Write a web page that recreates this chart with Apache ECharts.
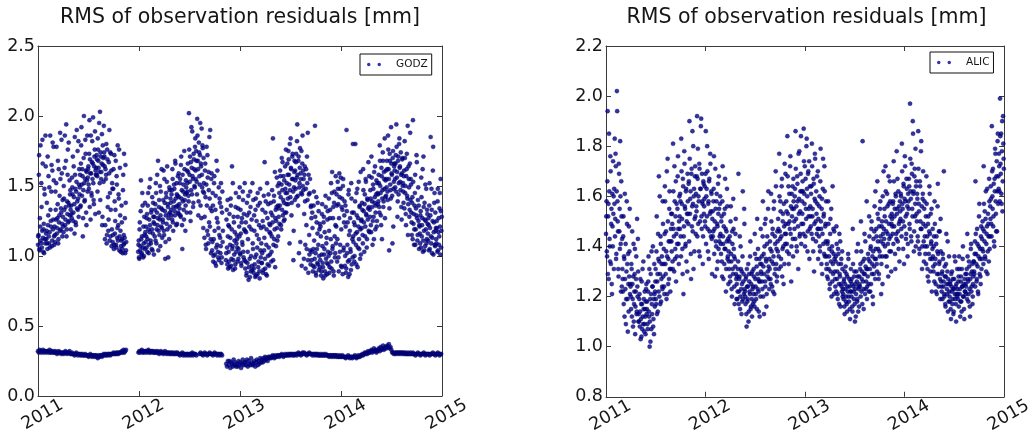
<!DOCTYPE html>
<html>
<head>
<meta charset="utf-8">
<script src="https://cdn.jsdelivr.net/npm/echarts@6/dist/echarts.min.js"></script>
<style>
  html, body { margin: 0; padding: 0; background: #ffffff; }
  #chart { width: 1035px; height: 436px; }
</style>
</head>
<body>
<div id="chart"></div>
<script>
// Daily RMS of observation residuals [mm] for two GNSS stations, 2011-2014.
const titleText = 'RMS of observation residuals [mm]';
const yearTicks = [2011, 2012, 2013, 2014, 2015];
const seriesStart = [2011, 0, 1];   // first epoch (UTC year, month, day)

// GODZ, upper cloud, even days (day 0, 2, 4, ...): 15 values per row = 30 days
const godzUpperEven = [
  1.08, 1.15, 1.72, 1.04, 1.21, 1.11, 1.52, 1.06, 1.83, 1.13, 1.19, 1.02, 1.44, 1.09, 1.64,
  1.12, 1.38, 1.05, 1.22, 1.57, 1.09, 1.17, 1.86, 1.25, 1.46, 1.07, 1.61, 1.19, 1.78, 1.14,
  1.21, 1.10, 1.33, 1.52, 1.16, 1.27, 1.68, 1.12, 1.24, 1.43, 1.88, 1.19, 1.31, 1.59, 1.14,
  1.28, 1.17, 1.41, 1.63, 1.22, 1.35, 1.94, 1.19, 1.30, 1.76, 1.38, 1.25, 1.54, 1.44, 1.33,
  1.36, 1.27, 1.49, 1.71, 1.31, 1.42, 1.16, 1.58, 1.24, 1.46, 1.90, 1.39, 1.33, 1.82, 1.51,
  1.44, 1.58, 1.36, 1.79, 1.51, 1.62, 1.14, 1.47, 2.00, 1.39, 1.55, 1.73, 1.31, 1.60, 1.86,
  1.56, 1.64, 1.48, 1.97, 1.69, 1.26, 1.59, 1.43, 1.82, 1.66, 1.52, 1.37, 1.71, 1.89, 1.61,
  1.63, 1.72, 1.57, 1.84, 1.68, 1.31, 1.60, 2.03, 1.74, 1.55, 1.66, 1.22, 1.79, 1.70, 1.93,
  1.71, 1.12, 1.62, 1.58, 1.09, 1.76, 1.35, 1.18, 1.67, 1.90, 1.45, 1.14, 1.73, 1.07, 1.52,
  1.10, 1.48, 1.05, 1.72, 1.16, 1.33, 1.08, 1.57, 1.13, 1.79, 1.22, 1.41, 1.04, 1.63, 1.18,
  1.07, 1.36, 1.12, 1.02, 1.58, 1.15, 1.09, 1.27, 1.65, 1.04, null, null, null, null, null,
  null, null, null, null, null, null, null, null, null, null, null, null, null, null, null,
  null, 1.03, 1.11, 0.98, 1.24, 1.07, 1.54, 1.01, 1.14, 1.36, 0.99, 1.09, 1.28, 1.05, 1.17,
  1.21, 1.06, 1.30, 1.12, 1.45, 1.02, 1.26, 1.17, 1.55, 1.09, 1.33, 1.19, 1.04, 1.38, 1.24,
  1.28, 1.14, 1.37, 1.52, 1.09, 1.31, 1.22, 1.68, 1.18, 1.40, 1.26, 1.07, 1.46, 1.34, 1.20,
  1.33, 1.24, 1.61, 1.15, 1.38, 0.98, 1.29, 1.42, 1.53, 1.19, 1.35, 1.27, 1.12, 1.47, 1.31,
  1.38, 1.29, 1.47, 1.62, 1.24, 1.35, 1.51, 1.32, 1.68, 1.41, 1.22, 1.44, 1.36, 1.57, 1.30,
  1.42, 1.34, 1.55, 1.28, 1.71, 1.47, 1.05, 1.39, 1.51, 1.26, 1.62, 1.44, 1.36, 1.49, 1.31,
  1.52, 1.66, 1.43, 2.02, 1.58, 1.71, 1.25, 1.47, 1.63, 1.89, 1.55, 1.38, 1.69, 1.50, 1.78,
  1.61, 1.75, 1.53, 1.98, 1.68, 1.29, 1.81, 1.57, 1.72, 1.36, 1.64, 1.91, 1.49, 1.77, 1.20,
  1.52, 1.13, 1.61, 1.42, 1.05, 1.78, 1.18, 1.56, 1.09, 1.47, 1.85, 1.21, 1.34, 1.02, 1.59,
  1.04, 1.45, 0.96, 1.12, 1.57, 1.01, 1.33, 0.93, 1.68, 1.08, 1.24, 0.99, 1.49, 1.15, 1.38,
  1.02, 1.52, 0.95, 1.31, 1.10, null, null, null, null, null, 0.97, 1.26, 1.06, 1.40, 0.91,
  1.03, 1.21, 0.92, 1.13, 1.36, 0.98, 1.64, 1.07, 0.90, 1.28, 1.01, 1.17, 0.94, 1.45, 1.09,
  1.12, 0.96, 1.34, 1.05, 1.21, 1.49, 1.01, 1.16, 0.93, 1.27, 1.08, 1.40, 0.99, 1.19, 1.52,
  0.91, 1.24, 0.86, 1.38, 0.95, 1.12, 0.83, 1.31, 0.98, 1.46, 0.89, 1.19, 0.93, 1.52, 1.05,
  0.88, 1.29, 0.94, 0.85, 1.41, 1.01, 1.15, 0.87, 1.36, 0.96, 1.22, 0.84, 1.48, 0.99, 1.09,
  0.95, 1.33, 0.88, 1.21, 1.04, 1.67, 0.91, 1.39, 1.08, 0.86, 1.27, 1.00, 1.44, 0.93, 1.17,
  1.22, 1.38, 0.96, 1.14, 1.29, 1.84, 1.08, 1.43, 1.19, 0.92, 1.33, 1.25, 1.56, 1.11, 1.36,
  1.34, 1.52, 1.23, 1.61, 1.42, 1.19, 1.70, 1.47, 1.29, 1.57, 1.38, 1.26, 1.64, 1.45, 1.31,
  1.52, 1.66, 1.41, 1.75, 1.58, 1.09, 1.47, 1.84, 1.62, 1.38, 1.71, 1.55, 0.97, 1.49, 1.68,
  1.61, 1.48, 1.73, 1.56, 1.94, 1.43, 1.68, 1.02, 1.52, 1.77, 1.59, 1.45, 0.93, 1.66, 1.50,
  1.47, 0.98, 1.58, 1.39, 0.91, 1.62, 1.05, 1.52, 1.88, 0.88, 1.44, 1.01, 1.55, 0.94, 1.36,
  0.97, 1.31, 0.89, 1.05, 1.46, 0.92, 1.93, 1.02, 0.86, 1.24, 0.95, 1.38, 1.08, 0.90, 1.19,
  0.92, 1.21, 0.86, 1.01, 1.37, 0.95, 0.84, 1.28, 1.05, 0.89, 1.43, 0.98, 1.13, 0.87, 1.32,
  0.94, 1.41, 0.88, 1.27, 1.02, 1.52, 0.91, 1.60, 1.07, 1.35, 0.86, 1.46, 0.99, 1.22, 1.09,
  1.44, 0.96, 1.53, 1.37, 0.89, 1.59, 1.03, 1.48, 0.93, 1.35, 1.41, 0.87, 1.55, 1.06, 1.29,
  0.93, 1.36, 0.88, 1.90, 1.02, 1.24, 0.85, 1.47, 0.97, 1.18, 1.05, 0.90, 1.41, 1.31, 0.99,
  1.14, 1.31, 0.96, 1.22, 1.80, 1.08, 1.45, 1.17, 0.92, 1.27, 1.53, 1.05, 1.36, 1.19, 1.01,
  1.26, 1.38, 1.15, 1.62, 1.32, 1.03, 1.44, 1.21, 1.53, 1.29, 1.12, 1.40, 1.34, 1.18, 1.57,
  1.33, 1.47, 1.22, 1.71, 1.39, 1.08, 1.51, 1.28, 1.60, 1.42, 1.19, 1.36, 1.54, 1.25, 1.45,
  1.44, 1.58, 1.35, 1.79, 1.50, 1.29, 1.63, 1.12, 1.47, 1.68, 1.39, 1.55, 1.84, 1.42, 1.61,
  1.55, 1.68, 1.46, 1.86, 1.62, 1.04, 1.73, 1.51, 1.41, 1.66, 1.58, 1.09, 1.75, 1.48, 1.64,
  1.61, 1.49, 1.72, 1.94, 1.56, 1.28, 1.68, 1.44, 1.80, 1.63, 1.53, 1.74, 1.35, 1.59, 1.70,
  1.52, 1.38, 1.61, 1.82, 1.45, 1.30, 1.57, 1.73, 1.41, 1.15, 1.64, 1.49, 1.33, 1.88, 1.55,
  1.31, 1.15, 1.42, 1.97, 1.23, 1.08, 1.36, 1.58, 1.19, 1.29, 1.67, 1.11, 1.40, 1.25, 1.05,
  1.21, 1.09, 1.32, 1.56, 1.14, 1.27, 1.03, 1.71, 1.18, 1.38, 1.07, 1.25, 1.48, 1.12, 1.30,
  1.16, 1.27, 1.04, 1.52, 1.20, 1.85, 1.09, 1.33, 1.13, 1.61, 1.01, 1.24, 1.45, 1.07, 1.18,
  1.12, 1.25, 1.03, 1.48, 1.17, 1.08, 1.34, 1.21, 1.55, 1.06, 1.28
];

// GODZ, upper cloud, odd days (day 1, 3, 5, ...)
const godzUpperOdd = [
  1.14, 1.58, 1.05, 1.27, 1.79, 1.09, 1.35, 1.18, 1.66, 1.03, 1.23, 1.48, 1.12, 1.86, 1.16,
  1.18, 1.09, 1.71, 1.29, 1.14, 1.49, 1.06, 1.33, 1.21, 1.65, 1.11, 1.81, 1.26, 1.54, 1.08,
  1.15, 1.46, 1.26, 1.78, 1.20, 1.37, 1.09, 1.62, 1.29, 1.18, 1.55, 1.34, 1.83, 1.23, 1.40,
  1.21, 1.50, 1.33, 1.86, 1.26, 1.68, 1.14, 1.39, 1.58, 1.24, 1.81, 1.36, 1.29, 1.47, 1.19,
  1.30, 1.56, 1.44, 1.25, 1.64, 1.37, 1.85, 1.48, 1.22, 1.53, 1.34, 1.75, 1.41, 1.28, 1.62,
  1.49, 1.35, 1.66, 1.92, 1.43, 1.57, 1.27, 1.70, 1.52, 1.40, 1.83, 1.61, 1.22, 1.54, 1.46,
  1.62, 1.51, 1.73, 1.35, 1.59, 1.86, 1.45, 1.67, 1.55, 1.99, 1.40, 1.64, 1.76, 1.30, 1.58,
  1.58, 1.69, 1.46, 1.76, 1.63, 1.95, 1.52, 1.40, 1.71, 1.60, 1.87, 1.28, 1.65, 1.53, 1.74,
  1.64, 1.22, 1.55, 1.80, 1.15, 1.69, 1.42, 1.26, 1.59, 1.11, 1.74, 1.33, 1.61, 1.19, 1.48,
  1.15, 1.62, 1.08, 1.39, 1.25, 1.68, 1.06, 1.51, 1.20, 1.11, 1.44, 1.76, 1.14, 1.29, 1.03,
  1.11, 1.24, 1.05, 1.47, 1.08, 1.73, 1.13, 1.02, 1.38, 1.10, null, null, null, null, null,
  null, null, null, null, null, null, null, null, null, null, null, null, null, null, null,
  null, 1.08, 0.99, 1.19, 1.04, 1.32, 1.12, 1.02, 1.45, 1.06, 1.21, 1.00, 1.15, 1.38, 1.10,
  1.14, 1.27, 1.03, 1.36, 1.19, 1.08, 1.49, 1.22, 1.11, 1.31, 1.05, 1.42, 1.16, 1.28, 1.01,
  1.23, 1.33, 1.11, 1.45, 1.19, 1.58, 1.27, 1.04, 1.35, 1.15, 1.50, 1.29, 1.21, 1.62, 1.13,
  1.26, 1.40, 1.18, 1.55, 1.32, 1.10, 1.45, 1.23, 1.64, 1.37, 0.99, 1.30, 1.49, 1.21, 1.41,
  1.33, 1.44, 1.26, 1.55, 1.18, 1.39, 1.48, 1.29, 1.66, 1.35, 1.52, 1.23, 1.43, 1.31, 1.59,
  1.37, 1.52, 1.29, 1.65, 1.41, 1.22, 1.58, 1.46, 1.33, 1.75, 1.40, 1.18, 1.54, 1.45, 1.61,
  1.46, 1.60, 1.39, 1.76, 1.53, 1.31, 1.67, 1.92, 1.44, 1.57, 1.35, 1.73, 1.62, 1.49, 1.84,
  1.55, 1.68, 1.44, 1.86, 1.62, 1.39, 1.74, 1.51, 1.95, 1.66, 1.27, 1.58, 1.79, 1.46, 1.70,
  1.45, 1.28, 1.66, 1.08, 1.51, 1.36, 1.72, 1.15, 1.60, 1.24, 1.41, 1.90, 1.12, 1.55, 1.32,
  1.10, 1.36, 1.00, 1.52, 1.18, 0.95, 1.43, 1.06, 1.27, 1.61, 1.03, 1.20, 0.97, 1.41, 1.13,
  1.07, 1.35, 0.99, 1.46, 1.18, null, null, null, null, null, 1.02, 1.33, 0.94, 1.14, 1.22,
  0.96, 1.30, 1.08, 1.41, 0.93, 1.19, 1.05, 1.52, 0.97, 1.24, 1.11, 0.91, 1.35, 1.03, 1.15,
  1.06, 1.28, 0.98, 1.42, 1.14, 1.02, 1.33, 0.95, 1.24, 1.10, 1.46, 1.03, 1.30, 0.97, 1.18,
  0.96, 1.17, 0.88, 1.29, 1.03, 1.43, 0.92, 1.21, 0.85, 1.35, 1.00, 1.26, 0.90, 1.09, 1.40,
  0.91, 1.18, 0.99, 1.33, 0.86, 1.25, 1.06, 1.45, 0.92, 1.12, 0.89, 1.38, 1.04, 1.20, 0.95,
  1.02, 1.25, 0.90, 1.43, 1.13, 0.98, 1.31, 0.87, 1.19, 1.52, 0.94, 1.37, 1.06, 1.23, 1.01,
  1.16, 1.31, 1.03, 1.47, 1.24, 0.97, 1.39, 1.12, 1.60, 1.27, 1.07, 1.35, 1.20, 1.50, 1.14,
  1.28, 1.45, 1.36, 1.57, 1.22, 1.51, 1.33, 1.67, 1.40, 1.25, 1.54, 1.31, 1.48, 1.76, 1.37,
  1.45, 1.58, 1.37, 1.69, 1.51, 1.80, 1.42, 1.63, 1.29, 1.55, 1.73, 1.46, 1.18, 1.60, 1.40,
  1.54, 1.67, 1.42, 1.82, 1.58, 1.36, 1.71, 1.49, 1.63, 1.10, 1.55, 1.75, 1.44, 1.86, 1.61,
  1.55, 1.30, 1.64, 1.08, 1.48, 1.22, 1.71, 1.40, 0.97, 1.58, 1.15, 1.45, 1.04, 1.35, 1.27,
  1.03, 1.20, 0.93, 1.36, 1.11, 0.98, 1.28, 0.88, 1.42, 1.05, 1.16, 0.94, 1.32, 1.00, 1.23,
  0.97, 1.14, 0.89, 1.30, 1.07, 0.92, 1.24, 1.01, 1.17, 0.86, 1.35, 1.09, 0.95, 1.26, 1.03,
  1.00, 1.18, 0.92, 1.33, 1.12, 0.96, 1.45, 1.05, 1.27, 0.89, 1.38, 1.14, 1.02, 1.57, 1.21,
  1.36, 1.12, 1.48, 0.99, 1.27, 1.42, 1.08, 1.56, 1.19, 0.92, 1.33, 1.50, 1.04, 1.24, 1.39,
  1.00, 1.21, 0.91, 1.32, 1.08, 0.96, 1.44, 1.15, 0.87, 1.27, 1.03, 1.52, 0.94, 1.12, 1.80,
  1.10, 1.24, 1.00, 1.39, 1.16, 0.94, 1.29, 1.48, 1.06, 1.21, 1.12, 1.35, 0.98, 1.60, 1.25,
  1.20, 1.33, 1.09, 1.47, 1.24, 1.37, 1.14, 1.55, 1.30, 1.06, 1.41, 1.26, 1.67, 1.35, 1.17,
  1.28, 1.41, 1.17, 1.56, 1.35, 1.25, 1.48, 1.12, 1.38, 1.64, 1.31, 1.44, 1.21, 1.52, 1.37,
  1.39, 1.52, 1.31, 1.68, 1.45, 1.22, 1.57, 1.41, 1.74, 1.35, 1.60, 1.48, 1.27, 1.54, 1.43,
  1.49, 1.62, 1.40, 1.76, 1.55, 1.34, 1.68, 1.47, 1.92, 1.59, 1.43, 1.70, 1.21, 1.53, 1.66,
  1.55, 1.66, 1.46, 1.78, 1.60, 1.39, 1.71, 1.52, 1.84, 1.64, 1.47, 1.58, 1.26, 1.69, 1.50,
  1.46, 1.57, 1.34, 1.70, 1.50, 1.22, 1.62, 1.43, 1.93, 1.37, 1.55, 1.28, 1.66, 1.40, 1.51,
  1.24, 1.38, 1.12, 1.53, 1.30, 1.19, 1.45, 1.08, 1.34, 1.72, 1.27, 1.15, 1.49, 1.36, 1.22,
  1.16, 1.29, 1.06, 1.42, 1.22, 1.62, 1.11, 1.35, 1.04, 1.26, 1.51, 1.19, 1.09, 1.33, 1.23,
  1.11, 1.22, 1.36, 1.05, 1.29, 1.14, 1.48, 1.02, 1.25, 1.78, 1.17, 1.38, 1.08, 1.31, 1.20,
  1.09, 1.20, 1.39, 1.04, 1.27, 1.14, 1.45, 1.01, 1.32, 1.18
];

// GODZ, lower band: one value every 3rd day, 10 values per row = 30 days
const godzLower = [
  .32, .31, .33, .32, .31, .32, .33, .31, .32, .32,
  .31, .32, .32, .31, .33, .31, .32, .31, .32, .31,
  .31, .32, .31, .30, .31, .32, .31, .31, .30, .31,
  .31, .30, .31, .32, .31, .30, .31, .31, .32, .30,
  .30, .31, .30, .30, .29, .30, .31, .30, .29, .30,
  .30, .29, .30, .29, .30, .29, .29, .30, .29, .29,
  .29, .28, .29, .30, .29, .28, .29, .29, .28, .29,
  .29, .28, .27, .29, .28, .29, .29, .28, .29, .30,
  .29, .30, .29, .30, .29, .30, .30, .29, .30, .30,
  .30, .31, .30, .30, .31, .30, .31, .30, .31, .31,
  .31, .32, .31, .33, .31, .32, .33, null, null, null,
  null, null, null, null, null, null, null, null, null, null,
  null, .31, .32, .31, .32, .33, .31, .32, .31, .32,
  .32, .31, .32, .33, .31, .32, .31, .32, .32, .31,
  .31, .32, .31, .31, .32, .31, .30, .31, .32, .31,
  .31, .30, .31, .32, .31, .30, .31, .31, .30, .31,
  .30, .31, .30, .31, .30, .30, .31, .30, .31, .30,
  .30, .29, .30, .30, .31, .29, .30, .30, .29, .30,
  .30, .29, .30, .30, .29, .30, .31, .29, .30, .30,
  .30, .29, null, null, null, .30, .31, .30, .30, .29,
  .30, .31, .30, .30, .29, .30, .30, .31, .30, .30,
  .30, .29, .30, .31, .30, .30, .29, .30, .30, .29,
  .30, .30, .29, null, null, null, null, .23, .21, .25,
  .22, .25, .20, .24, .23, .21, .26, .22, .24, .21,
  .23, .21, .25, .22, .24, .20, .23, .26, .22, .24,
  .24, .22, .26, .21, .25, .23, .22, .27, .24, .22,
  .23, .25, .21, .24, .26, .22, .25, .23, .27, .24,
  .26, .24, .27, .25, .28, .26, .27, .25, .28, .27,
  .28, .27, .28, .29, .28, .27, .29, .28, .28, .29,
  .29, .28, .29, .29, .30, .29, .28, .29, .30, .29,
  .29, .30, .29, .30, .29, .30, .30, .29, .30, .29,
  .30, .30, .29, .30, .31, .30, .30, .29, .30, .31,
  .30, .31, .30, .30, .29, .30, .30, .31, .30, .30,
  .30, .29, .30, .30, .29, .30, .30, .29, .30, .29,
  .29, .30, .29, .29, .30, .29, .29, .30, .29, .29,
  .29, .28, .29, .29, .28, .29, .29, .28, .29, .29,
  .28, .29, .28, .28, .29, .28, .28, .29, .28, .28,
  .28, .27, .28, .28, .29, .28, .27, .28, .28, .27,
  .28, .28, .29, .28, .27, .28, .29, .28, .28, .29,
  .29, .30, .29, .30, .31, .30, .31, .30, .32, .31,
  .31, .32, .33, .31, .32, .34, .32, .33, .31, .32,
  .33, .34, .32, .35, .33, .34, .36, .33, .34, .35,
  .34, .36, .35, .37, .34, .35, .33, .31, .31, .30,
  .31, .30, .31, .31, .30, .31, .31, .30, .31, .31,
  .30, .31, .30, .31, .30, .30, .31, .30, .30, .31,
  .30, .30, .31, .30, .30, .29, .30, .30, .31, .30,
  .30, .29, .30, .30, .30, .31, .30, .29, .30, .30,
  .30, .30, .29, .30, .30, .30, .31, .30, .30, .29,
  .30, .30, .31, .30, .29, .30, .30
];

// ALIC, even days (day 0, 2, 4, ...)
const alicEven = [
  1.45, 1.58, 1.36, 1.94, 1.52, 1.27, 1.62, 1.40, 1.76, 1.33, 1.55, 1.21, 1.48, 1.74, 1.60,
  1.63, 1.83, 1.51, 1.72, 1.37, 2.02, 1.58, 1.46, 1.28, 1.69, 1.55, 1.82, 1.41, 1.66, 1.24,
  1.31, 1.22, 1.52, 1.36, 1.12, 1.27, 1.41, 1.19, 1.58, 1.33, 1.06, 1.25, 1.48, 1.38, 1.21,
  1.24, 1.15, 1.31, 1.46, 1.19, 1.28, 1.10, 1.22, 1.39, 1.16, 1.27, 1.13, 1.51, 1.20, 1.30,
  1.13, 1.19, 1.08, 1.27, 1.11, 1.04, 1.17, 1.31, 1.09, 1.15, 1.06, 1.22, 1.12, 1.18, 1.25,
  1.15, 1.09, 1.22, 1.36, 1.12, 1.00, 1.19, 1.29, 1.07, 1.17, 1.24, 1.40, 1.11, 1.05, 1.21,
  1.22, 1.31, 1.17, 1.52, 1.26, 1.14, 1.35, 1.68, 1.20, 1.29, 1.44, 1.18, 1.33, 1.24, 1.58,
  1.28, 1.39, 1.21, 1.64, 1.33, 1.46, 1.19, 1.36, 1.75, 1.25, 1.42, 1.55, 1.31, 1.22, 1.47,
  1.42, 1.53, 1.34, 1.81, 1.47, 1.30, 1.58, 1.39, 1.66, 1.45, 1.36, 1.55, 1.76, 1.41, 1.50,
  1.52, 1.61, 1.44, 1.83, 1.57, 1.39, 1.67, 1.21, 1.48, 1.73, 1.55, 1.41, 1.63, 1.50, 1.30,
  1.58, 1.49, 1.66, 1.90, 1.53, 1.62, 1.27, 1.71, 1.56, 1.46, 1.80, 1.60, 1.38, 1.68, 1.52,
  1.61, 1.54, 1.92, 1.67, 1.49, 1.58, 1.73, 1.36, 1.63, 1.88, 1.52, 1.69, 1.57, 1.44, 1.65,
  1.56, 1.64, 1.48, 1.86, 1.60, 1.52, 1.70, 1.38, 1.58, 1.66, 1.46, 1.77, 1.54, 1.62, 1.43,
  1.51, 1.44, 1.58, 1.76, 1.47, 1.28, 1.55, 1.40, 1.61, 1.49, 1.34, 1.53, 1.68, 1.42, 1.57,
  1.45, 1.37, 1.52, 1.28, 1.72, 1.41, 1.48, 1.33, 1.55, 1.39, 1.22, 1.46, 1.63, 1.35, 1.43,
  1.38, 1.31, 1.44, 1.26, 1.56, 1.34, 1.20, 1.41, 1.29, 1.47, 1.36, 1.17, 1.32, 1.51, 1.27,
  1.25, 1.19, 1.31, 1.69, 1.22, 1.28, 1.15, 1.40, 1.23, 1.30, 1.18, 1.62, 1.26, 1.21, 1.49,
  1.22, 1.17, 1.28, 1.08, 1.24, 1.19, 1.33, 1.14, 1.26, 1.21, 1.42, 1.16, 1.29, 1.12, 1.23,
  1.24, 1.31, 1.18, 1.45, 1.27, 1.21, 1.35, 1.15, 1.29, 1.39, 1.22, 1.26, 1.12, 1.33, 1.47,
  1.29, 1.36, 1.23, 1.58, 1.32, 1.13, 1.40, 1.26, 1.51, 1.34, 1.21, 1.44, 1.30, 1.62, 1.27,
  1.35, 1.42, 1.27, 1.61, 1.38, 1.24, 1.47, 1.33, 1.55, 1.21, 1.44, 1.31, 1.64, 1.39, 1.28,
  1.42, 1.51, 1.36, 1.77, 1.46, 1.58, 1.32, 1.44, 1.67, 1.39, 1.53, 1.25, 1.48, 1.73, 1.41,
  1.49, 1.58, 1.41, 1.84, 1.53, 1.64, 1.37, 1.50, 1.72, 1.45, 1.26, 1.61, 1.55, 1.43, 1.67,
  1.55, 1.47, 1.63, 1.86, 1.51, 1.40, 1.68, 1.58, 1.31, 1.53, 1.78, 1.45, 1.62, 1.84, 1.49,
  1.58, 1.66, 1.49, 1.87, 1.61, 1.72, 1.44, 1.55, 1.80, 1.63, 1.38, 1.69, 1.52, 1.74, 1.47,
  1.56, 1.48, 1.64, 1.81, 1.52, 1.43, 1.67, 1.30, 1.59, 1.75, 1.50, 1.62, 1.45, 1.57, 1.70,
  1.51, 1.44, 1.60, 1.38, 1.79, 1.47, 1.55, 1.29, 1.63, 1.41, 1.53, 1.72, 1.36, 1.49, 1.58,
  1.36, 1.28, 1.42, 1.58, 1.31, 1.39, 1.25, 1.51, 1.34, 1.20, 1.40, 1.64, 1.29, 1.37, 1.46,
  1.30, 1.24, 1.36, 1.48, 1.27, 1.21, 1.39, 1.33, 1.17, 1.29, 1.42, 1.25, 1.35, 1.22, 1.31,
  1.23, 1.19, 1.27, 1.13, 1.25, 1.32, 1.20, 1.17, 1.28, 1.22, 1.35, 1.18, 1.24, 1.11, 1.26,
  1.22, 1.27, 1.16, 1.47, 1.24, 1.19, 1.30, 1.10, 1.25, 1.21, 1.38, 1.18, 1.28, 1.14, 1.23,
  1.28, 1.24, 1.33, 1.50, 1.22, 1.30, 1.82, 1.26, 1.15, 1.35, 1.29, 1.42, 1.23, 1.31, 1.19,
  1.31, 1.37, 1.25, 1.52, 1.34, 1.22, 1.40, 1.47, 1.29, 1.36, 1.17, 1.43, 1.32, 1.56, 1.27,
  1.39, 1.47, 1.33, 1.66, 1.42, 1.51, 1.29, 1.38, 1.55, 1.44, 1.21, 1.48, 1.36, 1.60, 1.41,
  1.47, 1.55, 1.40, 1.72, 1.50, 1.36, 1.61, 1.45, 1.28, 1.57, 1.43, 1.66, 1.52, 1.38, 1.49,
  1.51, 1.45, 1.58, 1.74, 1.48, 1.55, 1.31, 1.60, 1.43, 1.53, 1.67, 1.46, 1.39, 1.56, 1.50,
  1.54, 1.61, 1.47, 1.81, 1.57, 1.50, 1.65, 1.33, 1.59, 1.72, 1.52, 1.45, 1.63, 1.56, 1.41,
  1.58, 1.67, 1.49, 1.97, 1.62, 1.44, 1.73, 1.55, 1.90, 1.61, 1.38, 1.68, 1.52, 1.79, 1.64,
  1.53, 1.61, 1.44, 1.86, 1.57, 1.39, 1.66, 1.50, 1.78, 1.47, 1.31, 1.59, 1.70, 1.42, 1.55,
  1.44, 1.37, 1.52, 1.68, 1.40, 1.31, 1.49, 1.26, 1.46, 1.61, 1.35, 1.53, 1.42, 1.22, 1.39,
  1.36, 1.30, 1.44, 1.58, 1.33, 1.25, 1.41, 1.21, 1.38, 1.65, 1.29, 1.46, 1.34, 1.27, 1.51,
  1.26, 1.22, 1.30, 1.37, 1.24, 1.70, 1.20, 1.28, 1.16, 1.33, 1.25, 1.21, 1.42, 1.27, 1.18,
  1.22, 1.18, 1.26, 1.11, 1.24, 1.30, 1.19, 1.23, 1.14, 1.27, 1.21, 1.34, 1.17, 1.25, 1.20,
  1.23, 1.19, 1.28, 1.36, 1.21, 1.12, 1.26, 1.18, 1.31, 1.24, 1.40, 1.20, 1.15, 1.27, 1.22,
  1.25, 1.21, 1.31, 1.45, 1.27, 1.18, 1.34, 1.23, 1.12, 1.29, 1.41, 1.24, 1.33, 1.20, 1.28,
  1.34, 1.29, 1.42, 1.66, 1.37, 1.26, 1.47, 1.32, 1.21, 1.40, 1.57, 1.35, 1.28, 1.44, 1.31,
  1.43, 1.50, 1.38, 1.72, 1.46, 1.54, 1.35, 1.62, 1.41, 1.48, 1.29, 1.53, 1.44, 1.67, 1.39,
  1.56, 1.64, 1.49, 1.88, 1.60, 1.71, 1.52, 1.42, 1.67, 1.79, 1.58, 1.46, 1.74, 1.62, 1.85,
  1.68, 1.77, 1.62, 1.99, 1.73, 1.85, 1.57, 1.90, 1.66, 1.81, 1.71
];

// ALIC, odd days (day 1, 3, 5, ...)
const alicOdd = [
  1.52, 1.38, 1.66, 1.29, 1.57, 1.85, 1.43, 1.34, 1.70, 1.49, 1.25, 1.61, 1.40, 1.53, 1.31,
  1.57, 1.44, 1.77, 1.35, 1.62, 1.94, 1.50, 1.31, 1.73, 1.46, 1.39, 1.60, 1.22, 1.52, 1.43,
  1.27, 1.44, 1.17, 1.35, 1.61, 1.23, 1.09, 1.30, 1.49, 1.19, 1.37, 1.14, 1.28, 1.55, 1.25,
  1.20, 1.33, 1.12, 1.25, 1.08, 1.41, 1.17, 1.29, 1.05, 1.22, 1.36, 1.14, 1.24, 1.43, 1.10,
  1.10, 1.21, 1.14, 1.03, 1.17, 1.26, 1.07, 1.12, 1.34, 1.19, 1.09, 1.15, 1.05, 1.23, 1.13,
  1.18, 1.07, 1.26, 1.14, 1.31, 1.10, 1.02, 1.21, 1.38, 1.13, 1.24, 1.08, 1.19, 1.33, 1.16,
  1.26, 1.19, 1.38, 1.13, 1.29, 1.45, 1.22, 1.34, 1.60, 1.17, 1.41, 1.27, 1.36, 1.23, 1.49,
  1.33, 1.24, 1.45, 1.58, 1.29, 1.38, 1.70, 1.21, 1.50, 1.35, 1.27, 1.62, 1.42, 1.31, 1.53,
  1.38, 1.49, 1.31, 1.62, 1.44, 1.72, 1.35, 1.52, 1.26, 1.57, 1.41, 1.68, 1.47, 1.33, 1.60,
  1.47, 1.58, 1.36, 1.70, 1.51, 1.29, 1.64, 1.44, 1.78, 1.56, 1.40, 1.62, 1.34, 1.53, 1.69,
  1.53, 1.65, 1.42, 1.75, 1.59, 1.37, 1.69, 1.48, 1.86, 1.57, 1.31, 1.63, 1.51, 1.72, 1.45,
  1.56, 1.68, 1.44, 1.79, 1.60, 1.38, 1.71, 1.50, 1.63, 1.91, 1.47, 1.58, 1.33, 1.66, 1.53,
  1.59, 1.50, 1.69, 1.41, 1.63, 1.80, 1.47, 1.57, 1.35, 1.67, 1.53, 1.73, 1.44, 1.61, 1.29,
  1.54, 1.46, 1.63, 1.37, 1.50, 1.71, 1.42, 1.58, 1.31, 1.48, 1.65, 1.39, 1.55, 1.44, 1.60,
  1.41, 1.50, 1.34, 1.58, 1.44, 1.27, 1.53, 1.39, 1.67, 1.47, 1.31, 1.42, 1.56, 1.36, 1.25,
  1.34, 1.42, 1.28, 1.50, 1.37, 1.23, 1.46, 1.31, 1.59, 1.39, 1.24, 1.35, 1.45, 1.29, 1.19,
  1.28, 1.22, 1.34, 1.17, 1.27, 1.44, 1.20, 1.31, 1.13, 1.25, 1.36, 1.19, 1.29, 1.55, 1.23,
  1.20, 1.27, 1.13, 1.31, 1.18, 1.24, 1.10, 1.29, 1.22, 1.36, 1.15, 1.25, 1.19, 1.30, 1.17,
  1.21, 1.28, 1.16, 1.37, 1.24, 1.19, 1.32, 1.51, 1.23, 1.27, 1.14, 1.35, 1.26, 1.20, 1.30,
  1.33, 1.26, 1.44, 1.20, 1.37, 1.29, 1.49, 1.24, 1.35, 1.16, 1.41, 1.28, 1.55, 1.32, 1.23,
  1.31, 1.39, 1.25, 1.50, 1.34, 1.45, 1.22, 1.36, 1.58, 1.29, 1.41, 1.70, 1.33, 1.26, 1.46,
  1.38, 1.47, 1.31, 1.60, 1.43, 1.54, 1.35, 1.64, 1.28, 1.50, 1.40, 1.57, 1.33, 1.45, 1.69,
  1.45, 1.54, 1.38, 1.68, 1.49, 1.33, 1.61, 1.47, 1.76, 1.56, 1.40, 1.52, 1.64, 1.36, 1.58,
  1.50, 1.60, 1.43, 1.71, 1.56, 1.38, 1.65, 1.48, 1.77, 1.59, 1.44, 1.54, 1.69, 1.41, 1.62,
  1.53, 1.62, 1.45, 1.74, 1.57, 1.40, 1.67, 1.51, 1.83, 1.60, 1.46, 1.70, 1.55, 1.35, 1.64,
  1.52, 1.61, 1.45, 1.72, 1.55, 1.38, 1.65, 1.49, 1.77, 1.58, 1.42, 1.53, 1.68, 1.47, 1.35,
  1.47, 1.56, 1.40, 1.66, 1.50, 1.33, 1.59, 1.45, 1.75, 1.52, 1.37, 1.62, 1.48, 1.42, 1.31,
  1.33, 1.41, 1.27, 1.49, 1.36, 1.23, 1.45, 1.30, 1.55, 1.38, 1.26, 1.33, 1.47, 1.21, 1.35,
  1.27, 1.34, 1.22, 1.41, 1.30, 1.19, 1.37, 1.25, 1.45, 1.28, 1.16, 1.33, 1.24, 1.38, 1.20,
  1.21, 1.26, 1.16, 1.30, 1.23, 1.18, 1.29, 1.14, 1.24, 1.37, 1.20, 1.27, 1.15, 1.22, 1.31,
  1.20, 1.25, 1.14, 1.33, 1.22, 1.28, 1.17, 1.23, 1.12, 1.30, 1.26, 1.19, 1.41, 1.24, 1.16,
  1.25, 1.31, 1.20, 1.38, 1.27, 1.17, 1.34, 1.23, 1.29, 1.45, 1.21, 1.32, 1.26, 1.58, 1.24,
  1.28, 1.35, 1.22, 1.44, 1.31, 1.39, 1.25, 1.50, 1.33, 1.20, 1.38, 1.29, 1.46, 1.35, 1.62,
  1.35, 1.44, 1.30, 1.53, 1.39, 1.27, 1.48, 1.36, 1.58, 1.42, 1.33, 1.50, 1.25, 1.45, 1.70,
  1.43, 1.52, 1.36, 1.62, 1.46, 1.32, 1.56, 1.41, 1.68, 1.49, 1.38, 1.58, 1.44, 1.30, 1.53,
  1.48, 1.57, 1.41, 1.66, 1.52, 1.37, 1.61, 1.45, 1.78, 1.55, 1.42, 1.62, 1.49, 1.34, 1.58,
  1.51, 1.60, 1.44, 1.70, 1.55, 1.39, 1.64, 1.48, 1.76, 1.58, 1.43, 1.67, 1.53, 1.36, 1.61,
  1.55, 1.64, 1.47, 1.75, 1.59, 1.42, 1.69, 1.52, 1.85, 1.62, 1.46, 1.71, 1.57, 1.40, 1.66,
  1.50, 1.59, 1.42, 1.71, 1.54, 1.37, 1.64, 1.47, 1.82, 1.56, 1.40, 1.61, 1.49, 1.34, 1.58,
  1.40, 1.48, 1.33, 1.57, 1.44, 1.28, 1.52, 1.37, 1.64, 1.45, 1.30, 1.41, 1.55, 1.35, 1.47,
  1.32, 1.40, 1.26, 1.49, 1.35, 1.22, 1.44, 1.29, 1.56, 1.37, 1.24, 1.33, 1.46, 1.19, 1.38,
  1.24, 1.29, 1.19, 1.35, 1.26, 1.21, 1.32, 1.17, 1.28, 1.45, 1.23, 1.30, 1.14, 1.25, 1.36,
  1.20, 1.25, 1.15, 1.29, 1.22, 1.17, 1.27, 1.13, 1.23, 1.36, 1.19, 1.24, 1.10, 1.21, 1.31,
  1.21, 1.26, 1.16, 1.31, 1.23, 1.18, 1.28, 1.14, 1.24, 1.35, 1.20, 1.25, 1.11, 1.22, 1.29,
  1.24, 1.29, 1.19, 1.36, 1.26, 1.21, 1.32, 1.16, 1.27, 1.39, 1.22, 1.30, 1.17, 1.25, 1.34,
  1.30, 1.37, 1.24, 1.45, 1.33, 1.27, 1.41, 1.22, 1.36, 1.52, 1.29, 1.39, 1.25, 1.48, 1.35,
  1.39, 1.47, 1.33, 1.57, 1.42, 1.36, 1.51, 1.30, 1.45, 1.63, 1.38, 1.49, 1.34, 1.58, 1.44,
  1.51, 1.59, 1.44, 1.70, 1.55, 1.48, 1.65, 1.40, 1.62, 1.77, 1.53, 1.68, 1.46, 1.82, 1.57,
  1.63, 1.72, 1.58, 1.84, 1.69, 1.61, 1.78, 1.54, 1.92, 1.75
];

// ---------------------------------------------------------------------------
const DAY_MS = 86400000;
const t0 = Date.UTC(seriesStart[0], seriesStart[1], seriesStart[2]);

// day offset -> decimal year
function decimalYear(dayOffset) {
  const t = t0 + dayOffset * DAY_MS;
  const y = new Date(t).getUTCFullYear();
  const s = Date.UTC(y, 0, 1), e = Date.UTC(y + 1, 0, 1);
  return y + (t - s) / (e - s);
}

// values sampled every `step` days starting at day `first`
function toPoints(values, first, step) {
  const pts = [];
  values.forEach((v, i) => {
    if (v !== null) pts.push([decimalYear(first + i * step), v]);
  });
  return pts;
}

const FONT = 'DejaVu Sans';
const INK = '#161616';
const FRAME = '#3a3a3a';
const DOT = '#000094';
const DOT_EDGE = '#00003a';

const grids = [
  { left: 38, top: 46, width: 404, height: 350 },
  { left: 606, top: 46, width: 401, height: 351 }
];

const yRanges = [
  { min: 0, max: 2.5, interval: 0.5 },
  { min: 0.8, max: 2.2, interval: 0.2 }
];

function xAxes(gridIndex) {
  const base = {
    type: 'value', gridIndex,
    min: yearTicks[0], max: yearTicks[yearTicks.length - 1], interval: 1,
    splitLine: { show: false },
    axisLine: { show: true, onZero: false, lineStyle: { color: FRAME, width: 1 } },
    axisTick: { show: true, inside: true, length: 5, lineStyle: { color: FRAME, width: 1 } }
  };
  return [
    Object.assign({}, base, {
      position: 'bottom',
      axisLabel: {
        show: true, rotate: 30, align: 'center', verticalAlign: 'top', margin: 11,
        fontFamily: FONT, fontSize: 17.5, color: INK,
        formatter: v => String(Math.round(v))
      }
    }),
    Object.assign({}, base, { position: 'top', axisLabel: { show: false } })
  ];
}

function yAxes(gridIndex) {
  const r = yRanges[gridIndex];
  const base = {
    type: 'value', gridIndex,
    min: r.min, max: r.max, interval: r.interval,
    splitLine: { show: false },
    axisLine: { show: true, onZero: false, lineStyle: { color: FRAME, width: 1 } },
    axisTick: { show: true, inside: true, length: 5, lineStyle: { color: FRAME, width: 1 } }
  };
  return [
    Object.assign({}, base, {
      position: 'left',
      axisLabel: {
        show: true, margin: 3, fontFamily: FONT, fontSize: 17.5, color: INK,
        formatter: v => v.toFixed(1)
      }
    }),
    Object.assign({}, base, { position: 'right', axisLabel: { show: false } })
  ];
}

const dotStyle = { color: DOT, borderColor: DOT_EDGE, borderWidth: 0.4 };
const twoDots = 'path://M0,2a2,2 0 1,0 4,0a2,2 0 1,0 -4,0zM12,2a2,2 0 1,0 4,0a2,2 0 1,0 -4,0z';

function legendFor(name, left, top) {
  return {
    data: [name], left, top, orient: 'horizontal',
    icon: twoDots, itemWidth: 14, itemHeight: 3.5,
    itemStyle: { color: DOT, borderWidth: 0 },
    borderColor: '#111', borderWidth: 1, borderRadius: 0,
    padding: [5, 4, 5, 7],
    selectedMode: false,
    formatter: n => '   ' + n,
    textStyle: { fontFamily: FONT, fontSize: 10.5, color: INK }
  };
}

function scatter(name, axisIndex, data) {
  return {
    name, type: 'scatter', xAxisIndex: axisIndex, yAxisIndex: axisIndex,
    symbol: 'circle', symbolSize: 4.2, itemStyle: dotStyle, silent: true, data
  };
}

const option = {
  backgroundColor: '#ffffff',
  animation: false,
  title: [
    { text: titleText, left: 240, top: 7, textAlign: 'center', padding: 0,
      textStyle: { fontFamily: FONT, fontSize: 20.5, fontWeight: 'normal', color: INK } },
    { text: titleText, left: 806.5, top: 7, textAlign: 'center', padding: 0,
      textStyle: { fontFamily: FONT, fontSize: 20.5, fontWeight: 'normal', color: INK } }
  ],
  legend: [legendFor('GODZ', 360, 54), legendFor('ALIC', 930, 52)],
  grid: grids.map(g => Object.assign({ show: false, containLabel: false }, g)),
  xAxis: xAxes(0).concat(xAxes(1)),
  yAxis: yAxes(0).concat(yAxes(1)),
  series: [
    scatter('GODZ', 0, toPoints(godzUpperEven, 0, 2)),
    scatter('GODZ', 0, toPoints(godzUpperOdd, 1, 2)),
    scatter('GODZ', 0, toPoints(godzLower, 0, 3)),
    scatter('ALIC', 2, toPoints(alicEven, 0, 2)),
    scatter('ALIC', 2, toPoints(alicOdd, 1, 2))
  ]
};

const chart = echarts.init(document.getElementById('chart'), null, { renderer: 'canvas' });
chart.setOption(option);
</script>
</body>
</html>
